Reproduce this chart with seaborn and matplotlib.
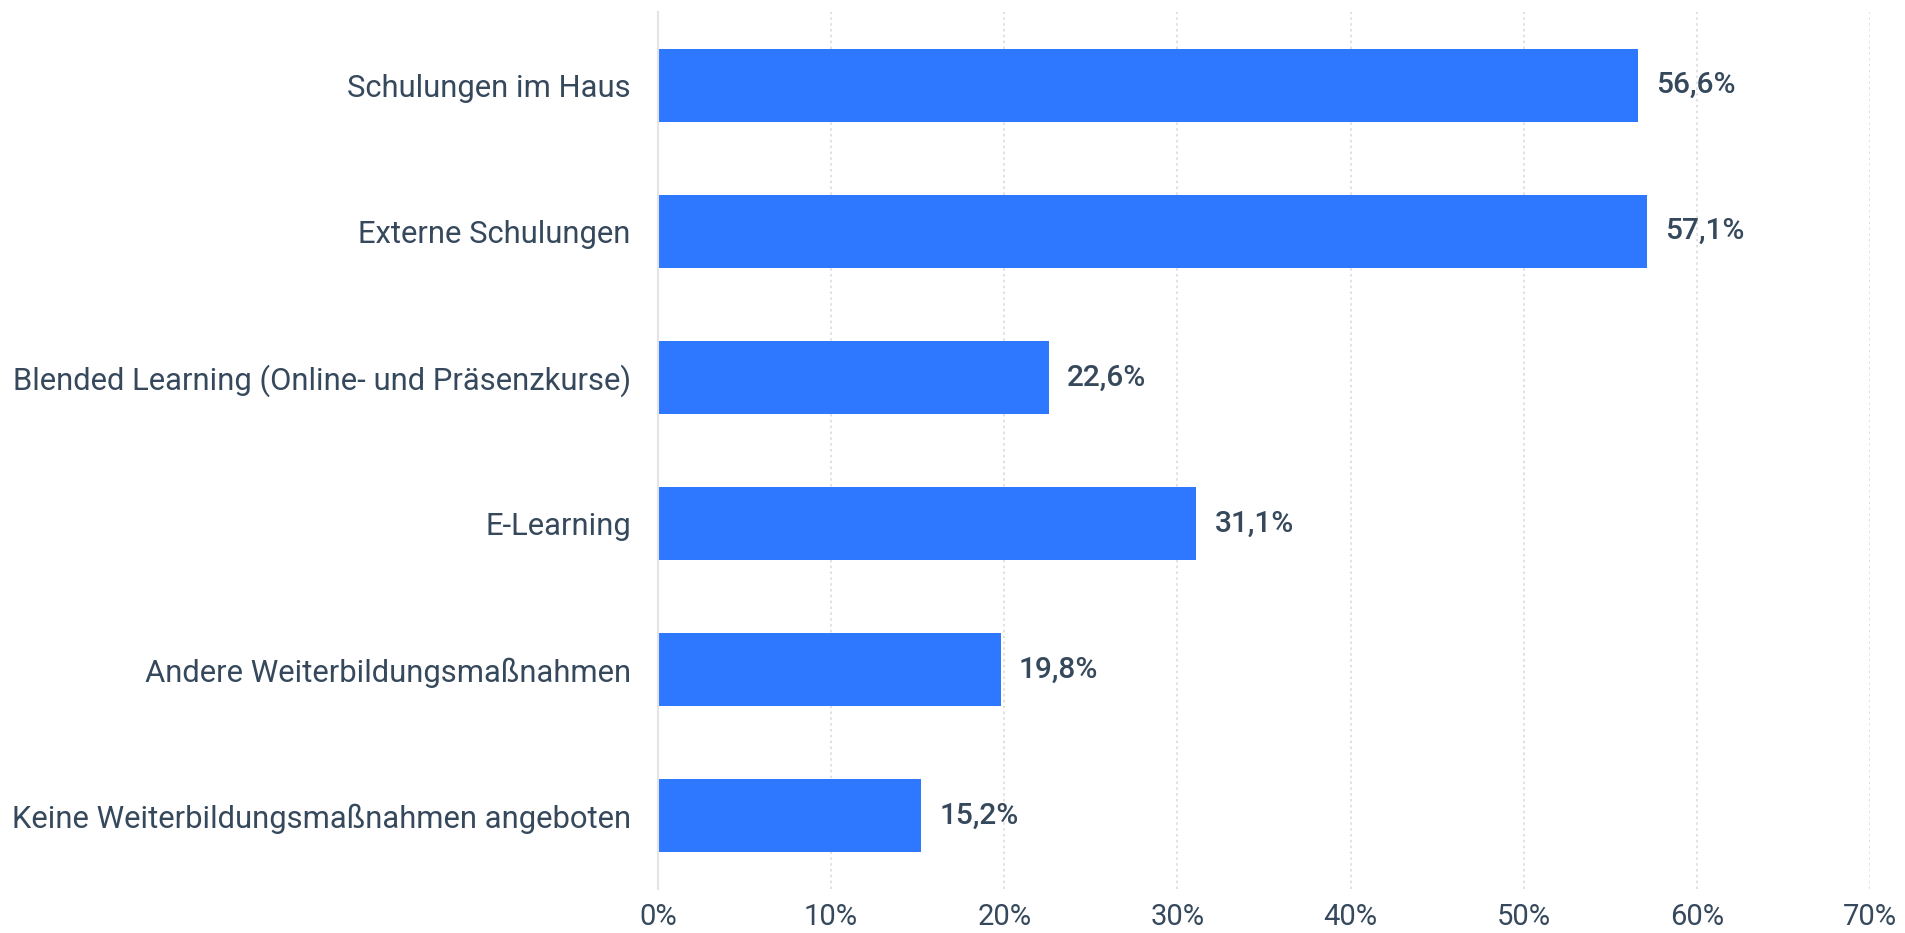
import matplotlib
matplotlib.use("Agg")
import matplotlib.pyplot as plt
import seaborn as sns
import pandas as pd
from matplotlib.ticker import FuncFormatter

categories = [
    "Schulungen im Haus",
    "Externe Schulungen",
    "Blended Learning (Online- und Präsenzkurse)",
    "E-Learning",
    "Andere Weiterbildungsmaßnahmen",
    "Keine Weiterbildungsmaßnahmen angeboten",
]
values = [56.6, 57.1, 22.6, 31.1, 19.8, 15.2]
value_labels = ["56,6%", "57,1%", "22,6%", "31,1%", "19,8%", "15,2%"]
tick_values = [0, 10, 20, 30, 40, 50, 60, 70]

sns.set_theme(style="white")
plt.rcParams["font.family"] = ["Roboto", "DejaVu Sans"]

BAR = "#2d78ff"
TXT = "#36495c"

df = pd.DataFrame({"cat": categories, "val": values})

fig = plt.figure(figsize=(19.06, 9.33), dpi=100)
ax = fig.add_axes([0.3452, 0.0472, 0.6359, 0.9399])

sns.barplot(data=df, x="val", y="cat", orient="h", color=BAR, width=0.5,
            saturation=1, ax=ax, edgecolor="none")

ax.set_xlim(0, 70)
ax.set_ylim(5.5, -0.5)
ax.set_xticks(tick_values)
ax.xaxis.set_major_formatter(FuncFormatter(lambda v, p: f"{int(v)}%"))
ax.set_xlabel("")
ax.set_ylabel("")

ax.grid(axis="x", color="#dcdcdc", linestyle=(0, (1.5, 2)), linewidth=1.2)
ax.grid(axis="y", visible=False)
ax.set_axisbelow(True)
for s in ["top", "right", "bottom"]:
    ax.spines[s].set_visible(False)
ax.spines["left"].set_color("#e4e4e4")
ax.spines["left"].set_linewidth(1.5)

ax.tick_params(axis="y", length=0, pad=19.5, labelsize=22.3, labelcolor=TXT)
ax.tick_params(axis="x", length=0, pad=10, labelsize=21, labelcolor=TXT)

for i, (v, lab) in enumerate(zip(values, value_labels)):
    ax.annotate(lab, xy=(v, i), xytext=(18, 0), textcoords="offset pixels",
                ha="left", va="center", fontsize=21.5, fontweight="medium",
                color=TXT)

fig.savefig("out.png", dpi=100)
